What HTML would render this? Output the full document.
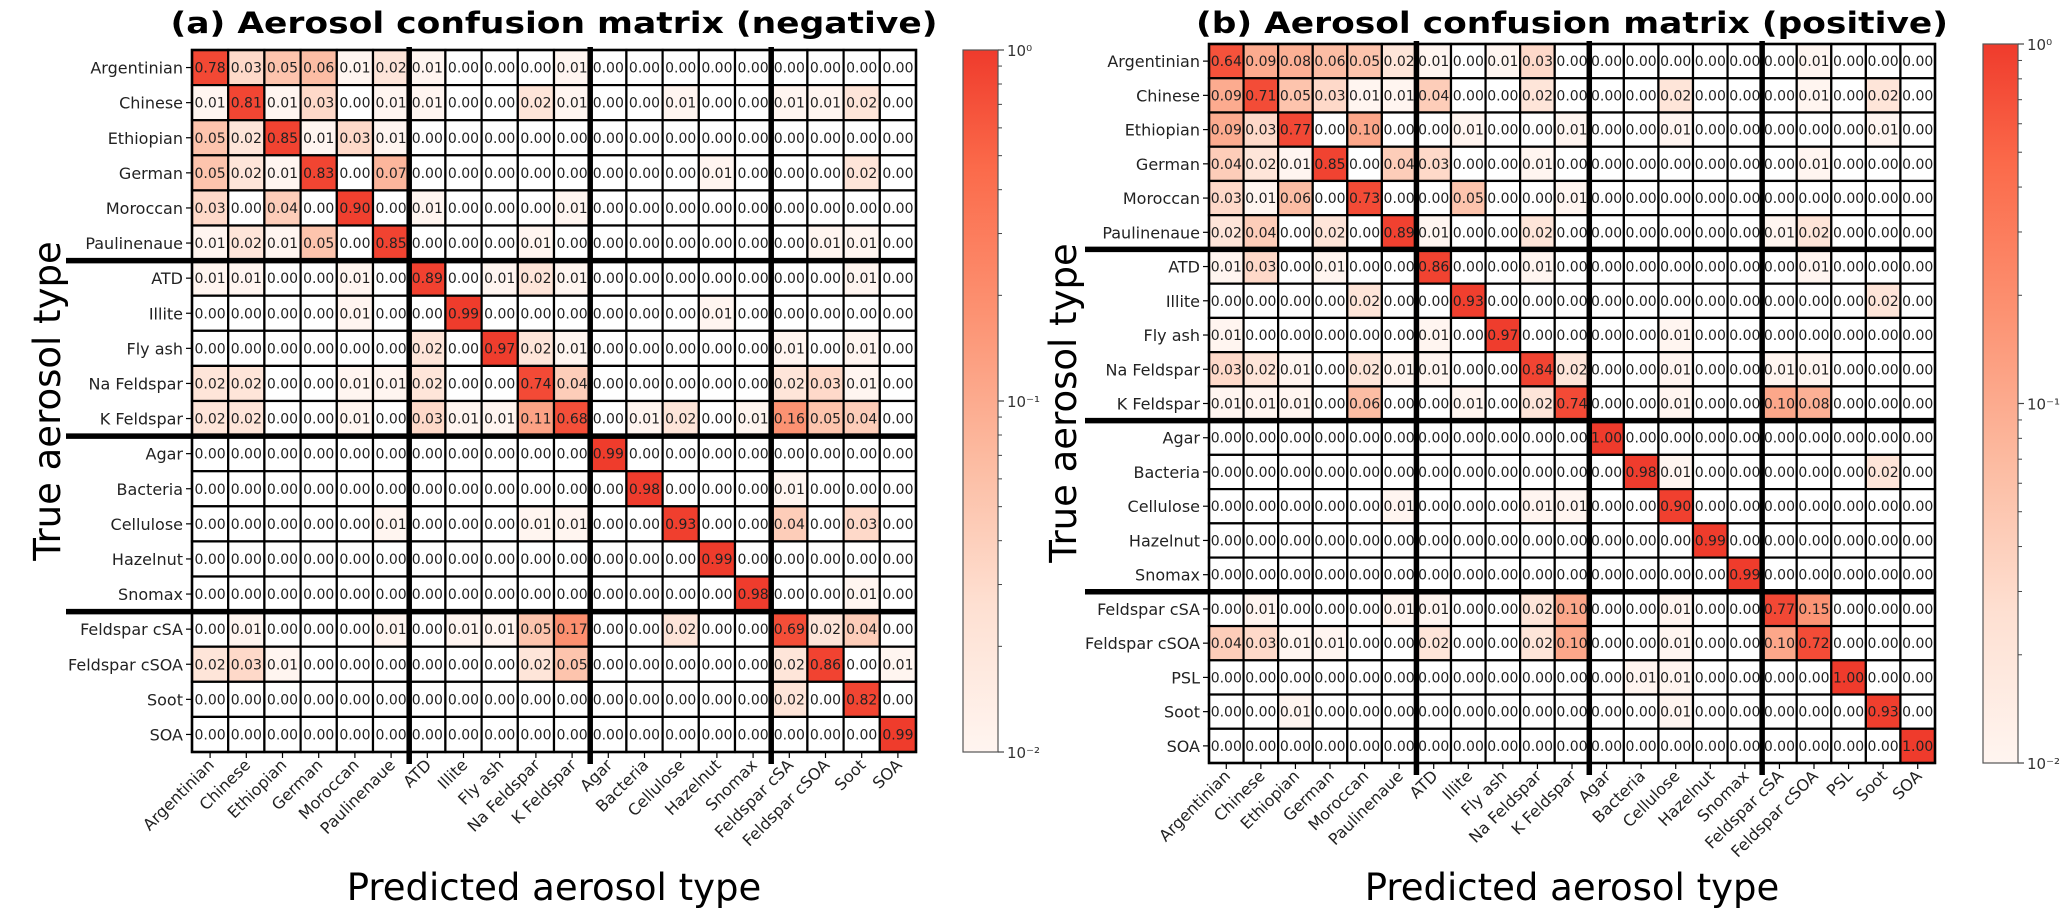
<!DOCTYPE html>
<html><head><meta charset="utf-8"><style>
html,body{margin:0;padding:0;background:#fff;}
svg{display:block;font-family:"DejaVu Sans","Liberation Sans",sans-serif;}
</style></head><body>
<svg id="fig" width="2067" height="917" viewBox="0 0 2067 917" xmlns="http://www.w3.org/2000/svg">
<defs>
<linearGradient id="cbgrad" x1="0" y1="1" x2="0" y2="0">
<stop offset="0" stop-color="#fff5f0"/><stop offset="0.2083" stop-color="#fee0d2"/><stop offset="0.4167" stop-color="#fcbba1"/><stop offset="0.625" stop-color="#fc9272"/><stop offset="0.8333" stop-color="#fb6a4a"/><stop offset="1" stop-color="#ef3b2c"/>
</linearGradient>
</defs>
<text x="554" y="33" text-anchor="middle" font-weight="bold" font-size="29" textLength="767" lengthAdjust="spacingAndGlyphs">(a) Aerosol confusion matrix (negative)</text>
<text x="1572" y="33" text-anchor="middle" font-weight="bold" font-size="29" textLength="752" lengthAdjust="spacingAndGlyphs">(b) Aerosol confusion matrix (positive)</text>
<text x="554" y="900" text-anchor="middle" font-size="37">Predicted aerosol type</text>
<text x="1572" y="900" text-anchor="middle" font-size="37">Predicted aerosol type</text>
<text transform="translate(60,401) rotate(-90)" text-anchor="middle" font-size="37">True aerosol type</text>
<text transform="translate(1076,403) rotate(-90)" text-anchor="middle" font-size="37">True aerosol type</text>
<g id="pa"></g>
<g id="pb"></g>
</svg>
<script>
const labelsA = ["Argentinian","Chinese","Ethiopian","German","Moroccan","Paulinenaue","ATD","Illite","Fly ash","Na Feldspar","K Feldspar","Agar","Bacteria","Cellulose","Hazelnut","Snomax","Feldspar cSA","Feldspar cSOA","Soot","SOA"];
const labelsB = ["Argentinian","Chinese","Ethiopian","German","Moroccan","Paulinenaue","ATD","Illite","Fly ash","Na Feldspar","K Feldspar","Agar","Bacteria","Cellulose","Hazelnut","Snomax","Feldspar cSA","Feldspar cSOA","PSL","Soot","SOA"];
const groupBreaksA = [6,11,16];
const groupBreaksB = [6,11,16];
const valuesA = [
[0.78,0.03,0.05,0.06,0.01,0.02,0.01,0,0,0,0.01,0,0,0,0,0,0,0,0,0],
[0.01,0.81,0.01,0.03,0,0.01,0.01,0,0,0.02,0.01,0,0,0.01,0,0,0.01,0.01,0.02,0],
[0.05,0.02,0.85,0.01,0.03,0.01,0,0,0,0,0,0,0,0,0,0,0,0,0,0],
[0.05,0.02,0.01,0.83,0,0.07,0,0,0,0,0,0,0,0,0.01,0,0,0,0.02,0],
[0.03,0,0.04,0,0.90,0,0.01,0,0,0,0.01,0,0,0,0,0,0,0,0,0],
[0.01,0.02,0.01,0.05,0,0.85,0,0,0,0.01,0,0,0,0,0,0,0,0.01,0.01,0],
[0.01,0.01,0,0,0.01,0,0.89,0,0.01,0.02,0.01,0,0,0,0,0,0,0,0.01,0],
[0,0,0,0,0.01,0,0,0.99,0,0,0,0,0,0,0.01,0,0,0,0,0],
[0,0,0,0,0,0,0.02,0,0.97,0.02,0.01,0,0,0,0,0,0.01,0,0.01,0],
[0.02,0.02,0,0,0.01,0.01,0.02,0,0,0.74,0.04,0,0,0,0,0,0.02,0.03,0.01,0],
[0.02,0.02,0,0,0.01,0,0.03,0.01,0.01,0.11,0.68,0,0.01,0.02,0,0.01,0.16,0.05,0.04,0],
[0,0,0,0,0,0,0,0,0,0,0,0.99,0,0,0,0,0,0,0,0],
[0,0,0,0,0,0,0,0,0,0,0,0,0.98,0,0,0,0.01,0,0,0],
[0,0,0,0,0,0.01,0,0,0,0.01,0.01,0,0,0.93,0,0,0.04,0,0.03,0],
[0,0,0,0,0,0,0,0,0,0,0,0,0,0,0.99,0,0,0,0,0],
[0,0,0,0,0,0,0,0,0,0,0,0,0,0,0,0.98,0,0,0.01,0],
[0,0.01,0,0,0,0.01,0,0.01,0.01,0.05,0.17,0,0,0.02,0,0,0.69,0.02,0.04,0],
[0.02,0.03,0.01,0,0,0,0,0,0,0.02,0.05,0,0,0,0,0,0.02,0.86,0,0.01],
[0,0,0,0,0,0,0,0,0,0,0,0,0,0,0,0,0.02,0,0.82,0],
[0,0,0,0,0,0,0,0,0,0,0,0,0,0,0,0,0,0,0,0.99]
];
const valuesB = [
[0.64,0.09,0.08,0.06,0.05,0.02,0.01,0,0.01,0.03,0,0,0,0,0,0,0,0.01,0,0,0],
[0.09,0.71,0.05,0.03,0.01,0.01,0.04,0,0,0.02,0,0,0,0.02,0,0,0,0.01,0,0.02,0],
[0.09,0.03,0.77,0,0.10,0,0,0.01,0,0,0.01,0,0,0.01,0,0,0,0,0,0.01,0],
[0.04,0.02,0.01,0.85,0,0.04,0.03,0,0,0.01,0,0,0,0,0,0,0,0.01,0,0,0],
[0.03,0.01,0.06,0,0.73,0,0,0.05,0,0,0.01,0,0,0,0,0,0,0,0,0,0],
[0.02,0.04,0,0.02,0,0.89,0.01,0,0,0.02,0,0,0,0,0,0,0.01,0.02,0,0,0],
[0.01,0.03,0,0.01,0,0,0.86,0,0,0.01,0,0,0,0,0,0,0,0.01,0,0,0],
[0,0,0,0,0.02,0,0,0.93,0,0,0,0,0,0,0,0,0,0,0,0.02,0],
[0.01,0,0,0,0,0,0.01,0,0.97,0,0,0,0,0.01,0,0,0,0,0,0,0],
[0.03,0.02,0.01,0,0.02,0.01,0.01,0,0,0.84,0.02,0,0,0.01,0,0,0.01,0.01,0,0,0],
[0.01,0.01,0.01,0,0.06,0,0,0.01,0,0.02,0.74,0,0,0.01,0,0,0.10,0.08,0,0,0],
[0,0,0,0,0,0,0,0,0,0,0,1.00,0,0,0,0,0,0,0,0,0],
[0,0,0,0,0,0,0,0,0,0,0,0,0.98,0.01,0,0,0,0,0,0.02,0],
[0,0,0,0,0,0.01,0,0,0,0.01,0.01,0,0,0.90,0,0,0,0,0,0,0],
[0,0,0,0,0,0,0,0,0,0,0,0,0,0,0.99,0,0,0,0,0,0],
[0,0,0,0,0,0,0,0,0,0,0,0,0,0,0,0.99,0,0,0,0,0],
[0,0.01,0,0,0,0.01,0.01,0,0,0.02,0.10,0,0,0.01,0,0,0.77,0.15,0,0,0],
[0.04,0.03,0.01,0.01,0,0,0.02,0,0,0.02,0.10,0,0,0.01,0,0,0.10,0.72,0,0,0],
[0,0,0,0,0,0,0,0,0,0,0,0,0.01,0.01,0,0,0,0,1.00,0,0],
[0,0,0.01,0,0,0,0,0,0,0,0,0,0,0.01,0,0,0,0,0,0.93,0],
[0,0,0,0,0,0,0,0,0,0,0,0,0,0,0,0,0,0,0,0,1.00]
];
const cbTickLabels = ["10\u207B\u00B2","10\u207B\u00B9","10\u2070"];
const cbDecades = [-2,-1,0];

const NS = "http://www.w3.org/2000/svg";
const stops = [[0,[255,245,240]],[0.125,[254,224,210]],[0.25,[252,187,161]],[0.375,[252,146,114]],[0.5,[251,106,74]],[0.625,[239,59,44]]];
function color(v){
  if(v<=0) return "#ffffff";
  let t=(Math.log10(v)+2)/2; t=Math.max(0,Math.min(1,t)); const s=t*0.625;
  for(let i=0;i<stops.length-1;i++){
    const a=stops[i],b=stops[i+1];
    if(s<=b[0]){const f=(s-a[0])/(b[0]-a[0]);
      const c=a[1].map((x,k)=>Math.round(x+(b[1][k]-x)*f));
      return "rgb("+c.join(",")+")";}
  }
  return "rgb(239,59,44)";
}
function mk(tag,attrs,parent){const e=document.createElementNS(NS,tag);for(const k in attrs)e.setAttribute(k,attrs[k]);parent.appendChild(e);return e;}

function panel(g,cfg,labels,values,breaks){
  const n=labels.length, cw=(cfg.right-cfg.left)/n, ch=(cfg.bottom-cfg.top)/n;
  const xs=i=>cfg.left+i*cw, ys=j=>cfg.top+j*ch;
  for(let r=0;r<n;r++){for(let c=0;c<n;c++){
    const v=values[r][c];
    const rect=mk("rect",{x:xs(c),y:ys(r),width:cw,height:ch,fill:color(v),stroke:"#000","stroke-width":2.2},g);
    
    
    const t=mk("text",{x:xs(c)+cw/2,y:ys(r)+ch/2+5,"text-anchor":"middle","font-size":14,fill:"#222"},g);
    
    
    t.textContent=v.toFixed(2);
  }}
  for(let r=0;r<n;r++){
    const tk=mk("line",{x1:cfg.left-6,x2:cfg.left,y1:ys(r)+ch/2,y2:ys(r)+ch/2,stroke:"#000","stroke-width":1.2},g);
    
    
    const t=mk("text",{x:cfg.left-9,y:ys(r)+ch/2+6,"text-anchor":"end","font-size":16,fill:"#222"},g);
    
    
    t.textContent=labels[r];
  }
  for(let c=0;c<n;c++){
    const x=xs(c)+cw/2;
    const tk=mk("line",{x1:x,x2:x,y1:cfg.bottom,y2:cfg.bottom+6,stroke:"#000","stroke-width":1.2},g);
    
    
    const t=mk("text",{transform:"translate("+(x+5)+","+(cfg.bottom+14)+") rotate(-45)","text-anchor":"end","font-size":16,fill:"#222"},g);
    
    
    t.textContent=labels[c];
  }
  const border=mk("rect",{x:cfg.left,y:cfg.top,width:cfg.right-cfg.left,height:cfg.bottom-cfg.top,fill:"none",stroke:"#000","stroke-width":2.5},g);
  
  
  breaks.forEach(b=>{
    const h=mk("line",{x1:cfg.sepLeft,x2:cfg.right,y1:ys(b),y2:ys(b),stroke:"#000","stroke-width":5.5},g);
    
    
    const v=mk("line",{x1:xs(b),x2:xs(b),y1:cfg.top-3,y2:cfg.bottom+12,stroke:"#000","stroke-width":5.5},g);
    
    
  });
  // colorbar
  const cb=mk("rect",{x:cfg.cbx,y:cfg.top,width:35,height:cfg.bottom-cfg.top,fill:"url(#cbgrad)",stroke:"#555","stroke-width":1.2},g);
  
  
  const cy=d=>cfg.bottom-(d+2)/2*(cfg.bottom-cfg.top);
  cbDecades.forEach((d,i)=>{
    const y=cy(d);
    const tk=mk("line",{x1:cfg.cbx+35,x2:cfg.cbx+41,y1:y,y2:y,stroke:"#444","stroke-width":1.2},g);
    
    
    const t=mk("text",{x:cfg.cbx+44,y:y+6,"font-size":15,fill:"#333"},g);
    
    
    t.textContent=cbTickLabels[i];
    if(i<cbDecades.length-1){
      for(let m=2;m<=9;m++){
        const ym=cy(d+Math.log10(m));
        const mt=mk("line",{x1:cfg.cbx+35,x2:cfg.cbx+39,y1:ym,y2:ym,stroke:"#444","stroke-width":1},g);
        
        
      }
    }
  });
}
panel(document.getElementById("pa"),{left:192,right:916,top:50,bottom:752,sepLeft:66,cbx:963},labelsA,valuesA,groupBreaksA);
panel(document.getElementById("pb"),{left:1209,right:1935,top:44,bottom:763,sepLeft:1085,cbx:1983},labelsB,valuesB,groupBreaksB);
</script>
</body></html>
